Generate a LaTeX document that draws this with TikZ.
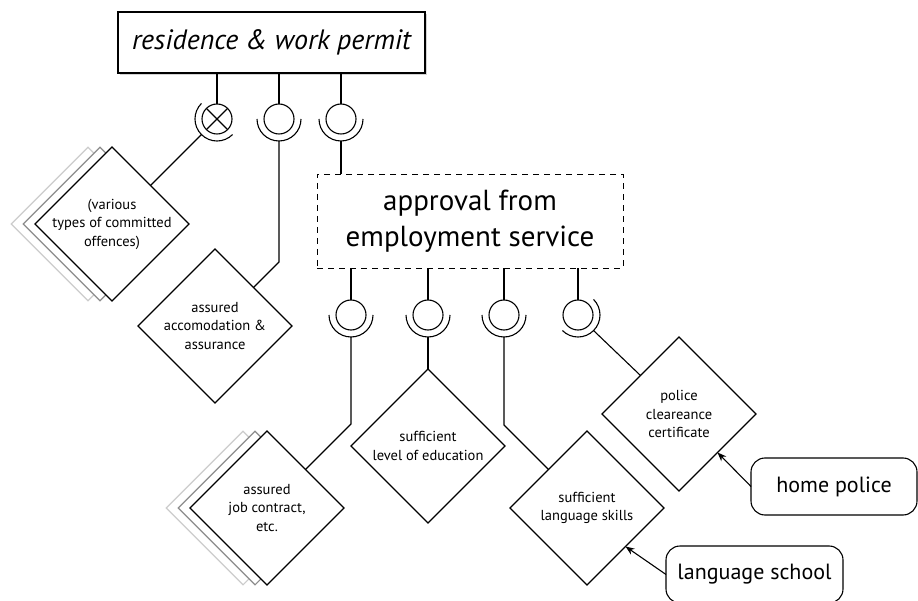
\documentclass[tikz,border=0pt]{standalone}
\usepackage{fontspec}
\setmainfont{PT Sans}
\usetikzlibrary{shapes.geometric,shadows,arrows.meta}
\begin{document}
\begin{tikzpicture}[x=1pt,y=1pt,line width=1.1pt,
        ball/.style={circle,draw,minimum size=30pt,inner sep=0pt,outer sep=0pt},
        sock/.style={circle,minimum size=44pt,inner sep=0pt,outer sep=0pt},
        req/.style={diamond,draw,fill=white,minimum size=154pt,inner sep=-16pt,
            outer sep=0pt,align=center,font=\fontsize{14.5}{18.5}\selectfont},
        ghost/.style={diamond,draw=#1,fill=white,minimum size=154pt,inner sep=0pt},
        source/.style={rectangle,rounded corners=14pt,draw,minimum height=57pt,
            outer sep=0pt,font=\fontsize{22}{26}\selectfont}]
\useasboundingbox (0,0) rectangle (918,-601);

\node[draw,fill=white,line width=1.3pt,minimum width=307pt,minimum height=61pt,
    drop shadow={shadow xshift=2pt,shadow yshift=-2pt,opacity=0.35},
    font=\fontsize{28}{32}\selectfont\itshape] (permit) at (271.5,-42.5)
    {residence \& work permit};
\node[draw,line width=0.8pt,dash pattern=on 6pt off 5pt,minimum width=306pt,
    minimum height=94pt,align=center,font=\fontsize{29}{36}\selectfont]
    (approval) at (470,-221) {approval from\\employment service};

\node[ball] (t1) at (217,-119) {};
\node[ball] (t2) at (279,-119) {};
\node[ball] (t3) at (341,-119) {};
\node[sock] (st1) at (t1) {};
\node[sock] (st2) at (t2) {};
\node[sock] (st3) at (t3) {};
\draw (t1.north west) -- (t1.south east) (t1.north east) -- (t1.south west);
\draw (st1.north west) arc[start angle=135,end angle=315,radius=22];
\draw (st2.west) arc[start angle=180,end angle=360,radius=22];
\draw (st3.west) arc[start angle=180,end angle=360,radius=22];
\draw (t1.north) -- (t1.north |- permit.south);
\draw (t2.north) -- (t2.north |- permit.south);
\draw (t3.north) -- (t3.north |- permit.south);

\node[ball] (b1) at (351,-315) {};
\node[ball] (b2) at (428,-315) {};
\node[ball] (b3) at (504,-315) {};
\node[ball] (b4) at (578,-315) {};
\node[sock] (sb1) at (b1) {};
\node[sock] (sb2) at (b2) {};
\node[sock] (sb3) at (b3) {};
\node[sock] (sb4) at (b4) {};
\draw (sb1.west) arc[start angle=180,end angle=360,radius=22];
\draw (sb2.west) arc[start angle=180,end angle=360,radius=22];
\draw (sb3.west) arc[start angle=180,end angle=360,radius=22];
\draw (sb4.north east) arc[start angle=45,end angle=-135,radius=22];
\draw (b1.north) -- (b1.north |- approval.south);
\draw (b2.north) -- (b2.north |- approval.south);
\draw (b3.north) -- (b3.north |- approval.south);
\draw (b4.north) -- (b4.north |- approval.south);

\node[ghost=black!20] at (88,-224) {};
\node[ghost=black!45] at (100,-224) {};
\node[req] (offences) at (112,-224) {(various\\types of committed\\offences)};
\node[req] (accom) at (215,-326) {assured\\accomodation \&\\assurance};
\node[ghost=black!20] at (243,-508) {};
\node[ghost=black!45] at (255,-508) {};
\node[req] (job) at (267,-508) {assured\\job contract,\\etc.};
\node[req] (educ) at (428,-446) {sufficient\\level of education};
\node[req] (lang) at (587,-508) {sufficient\\language skills};
\node[req] (police) at (679,-414) {police\\cleareance\\certificate};

\node[source,minimum width=166pt] (home) at (834,-486.5) {home police};
\node[source,minimum width=177pt] (school) at (754.5,-574.5) {language school};

\draw (st1.south west) -- (offences.north east);
\draw (accom.north east) -- ++(25.5,25.5) -- (st2.south);
\draw (st3.south) -- (st3.south |- approval.north);
\draw (job.north east) -- ++(45.5,45.5) -- (sb1.south);
\draw (sb2.south) -- (educ.north);
\draw (lang.north west) -- ++(-44.5,44.5) -- (sb3.south);
\draw (sb4.south east) -- (police.north west);

\draw[-{Stealth[length=9pt,width=7pt]}] (home.west) -- (police.south east);
\draw[-{Stealth[length=9pt,width=7pt]}] (school.west) -- (lang.south east);
\end{tikzpicture}
\end{document}
